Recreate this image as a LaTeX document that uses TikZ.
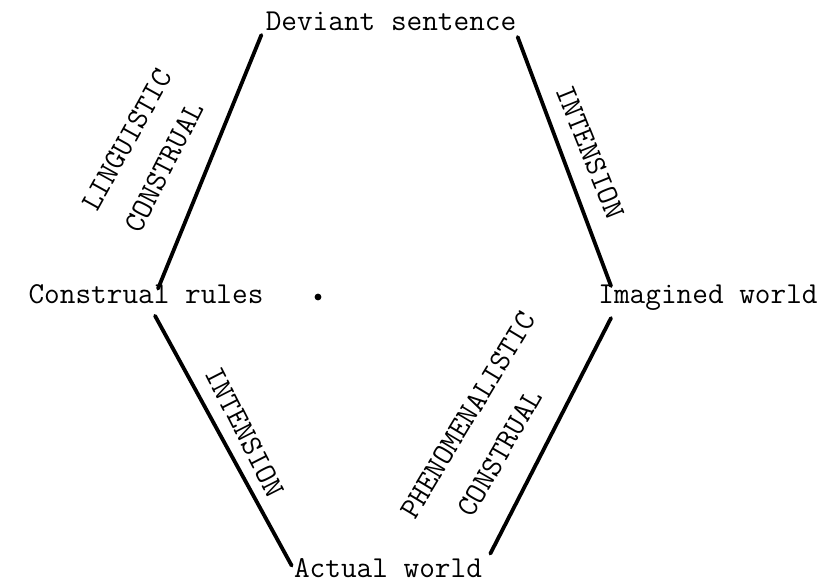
\documentclass[tikz,border=0pt]{standalone}
\usepackage{tikz}
\usetikzlibrary{calc}

\begin{document}
\begin{tikzpicture}[x=0.5pt, y=-0.5pt,
  term/.style={font=\fontsize{15.2}{18}\selectfont\ttfamily, inner sep=0pt, anchor=base},
  tag/.style={font=\fontsize{15.2}{18}\selectfont\ttfamily, inner sep=0pt},
  link/.style={line width=1.9pt, line cap=round}]
  \useasboundingbox (0,0) rectangle (822,583);
  % the four corners
  \node[term] (dev)   at (391,31)  {Deviant sentence};
  \node[term] (rules) at (146,303) {Construal rules};
  \node[term] (imag)  at (708,303) {Imagined world};
  \node[term] (act)   at (388,577) {Actual world};
  \node[circle, fill, inner sep=1.2pt] (mid) at (318,297) {};
  % sides
  \draw[link] ([shift={(-4,4)}]dev.base west) -- ([shift={(12,5)}]rules.north);
  \draw[link] ([shift={(1,6)}]dev.base east) -- ([shift={(13,2)}]imag.north west);
  \draw[link] ([shift={(9,12)}]rules.south) -- ([shift={(-2,8)}]act.north west);
  \draw[link] ([shift={(8,-4)}]act.north east) -- ([shift={(13,15)}]imag.base west);
  % side labels
  \node[tag, rotate=61]  (ling)  at (127,140) {LINGUISTIC};
  \node[tag, rotate=63]  (lcons) at (164,167) {CONSTRUAL};
  \node[tag, rotate=-68] (rint)  at (590,152) {INTENSION};
  \node[tag, rotate=-63] (lint)  at (245,432) {INTENSION};
  \node[tag, rotate=59]  (phen)  at (468,415) {PHENOMENALISTIC};
  \node[tag, rotate=60]  (pcons) at (500,453) {CONSTRUAL};
\end{tikzpicture}
\end{document}
